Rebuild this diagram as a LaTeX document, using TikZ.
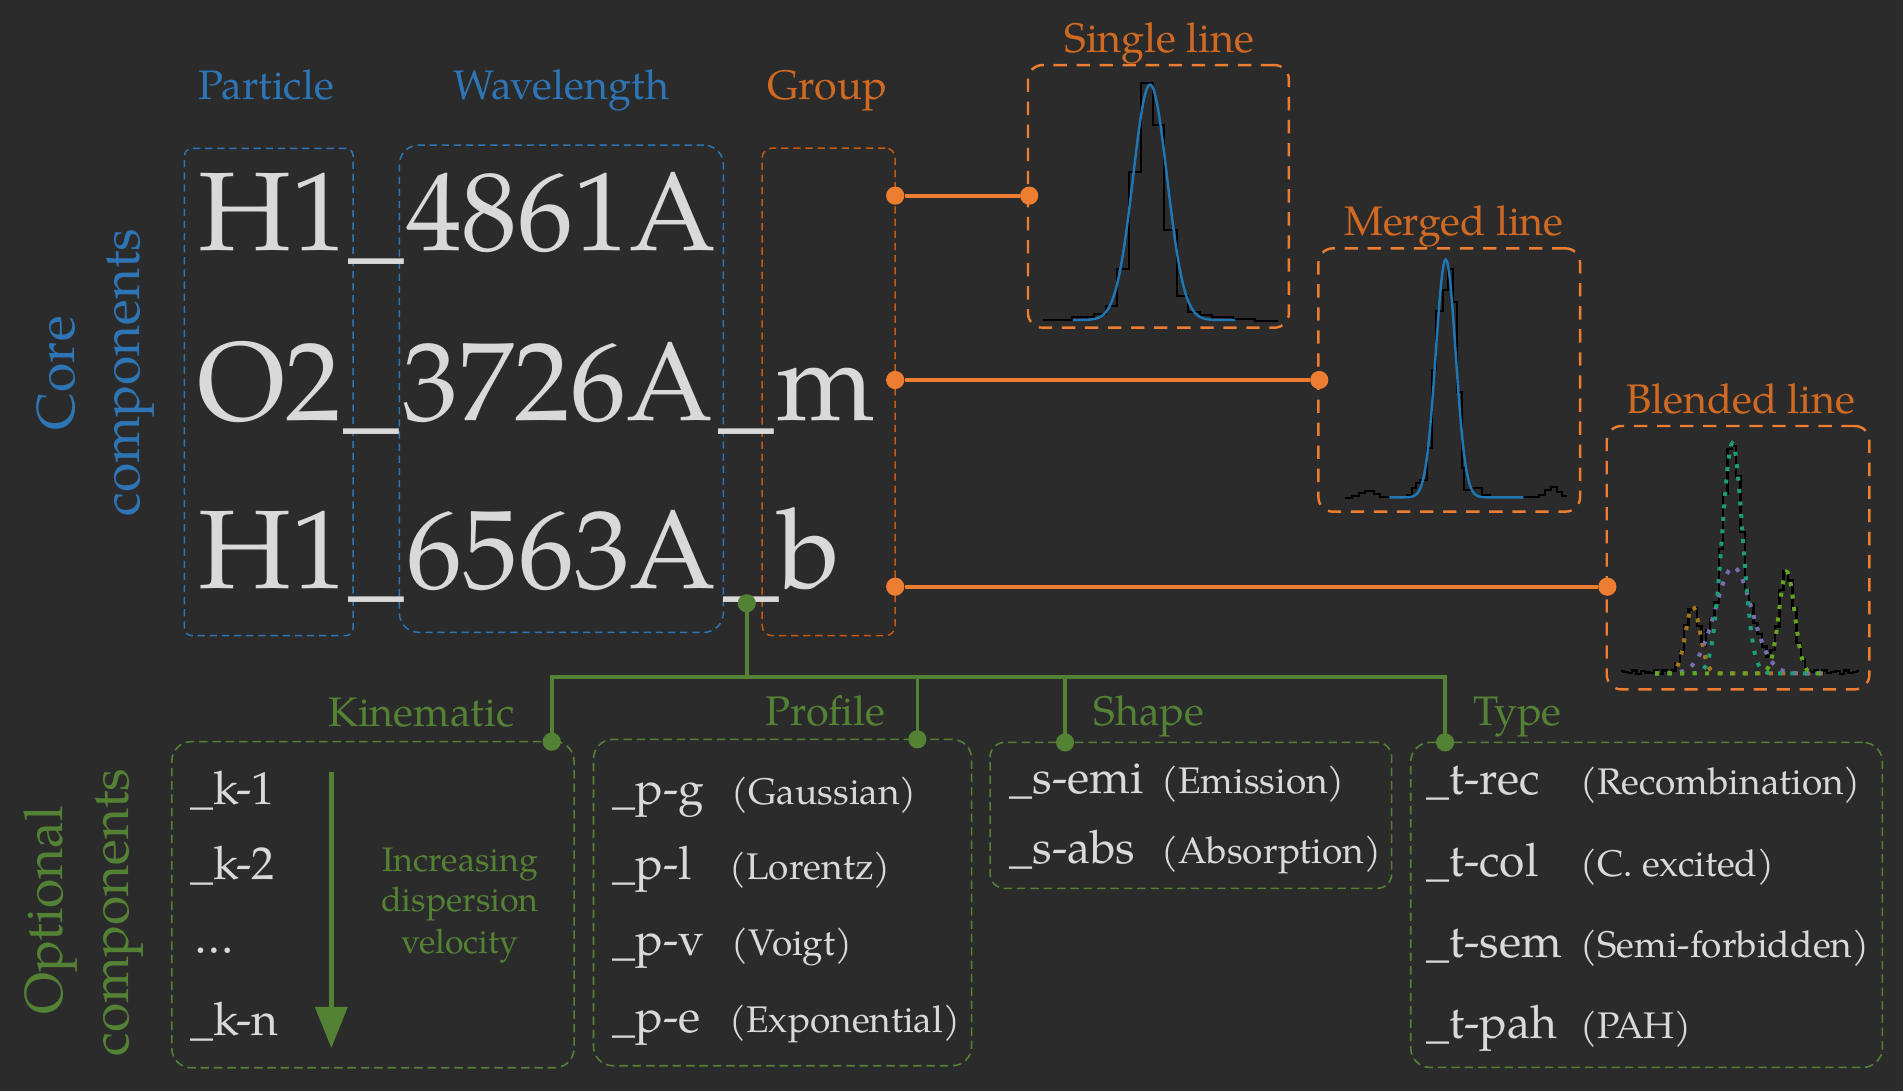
\documentclass[tikz,border=0pt]{standalone}
\usepackage{fontspec}
\setmainfont{TeX Gyre Pagella}
\usetikzlibrary{arrows.meta}
\definecolor{bg}{HTML}{2B2B2B}
\definecolor{txtgray}{HTML}{D9D9D9}
\definecolor{cblue}{HTML}{2E75B6}
\definecolor{olbl}{HTML}{D06A22}
\definecolor{oline}{HTML}{ED7D31}
\definecolor{odark}{HTML}{C55A11}
\definecolor{grn}{HTML}{548235}
\definecolor{pblue}{HTML}{1F77B4}
\definecolor{dgold}{HTML}{A6761D}
\definecolor{dteal}{HTML}{1B9E77}
\definecolor{dpurp}{HTML}{7570B3}
\definecolor{dgrn}{HTML}{66A61E}
\tikzset{
 lbl/.style={inner sep=0pt, outer sep=0pt, anchor=base west},
 big/.style={lbl, text=txtgray, font=\fontsize{92}{92}\selectfont},
 hdr/.style={lbl, font=\fontsize{34}{34}\selectfont},
 side/.style={inner sep=0pt, anchor=base, rotate=90, font=\fontsize{44}{44}\selectfont},
 code/.style={lbl, text=txtgray, font=\fontsize{38}{38}\selectfont},
 paren/.style={lbl, text=txtgray, font=\fontsize{30.5}{30.5}\selectfont},
 incr/.style={inner sep=0pt, anchor=base, text=grn, font=\fontsize{28}{28}\selectfont},
 corebox/.style={draw=cblue, rectangle, line width=1.2pt, dash pattern=on 6pt off 4pt, inner sep=0pt},
 grpbox/.style={draw=odark, rectangle, line width=1.2pt, dash pattern=on 6pt off 4pt, inner sep=0pt, rounded corners=8pt},
 plotbox/.style={draw=oline, rectangle, line width=2pt, dash pattern=on 11pt off 8pt, inner sep=0pt, rounded corners=12pt},
 optbox/.style={draw=grn, rectangle, line width=1.3pt, dash pattern=on 7pt off 4pt, inner sep=0pt, rounded corners=16pt},
 odot/.style={circle, fill=oline, inner sep=0pt, minimum size=15pt},
 gdot/.style={circle, fill=grn, inner sep=0pt, minimum size=15pt},
 oconn/.style={draw=oline, line width=3.5pt},
 gconn/.style={draw=grn, line width=3pt},
 hist/.style={draw=black, line width=1.6pt},
 fitline/.style={draw=pblue, line width=2pt},
 comp/.style={line width=3.3pt, dash pattern=on 3.3pt off 7pt},
}
\begin{document}
\begin{tikzpicture}[x=1pt,y=-1pt,
 declare function={
  gA(\x)=54.9*exp(-min(((\x-1394.8)/6.06)^2/2,9));
  gT(\x)=189.5*exp(-min(((\x-1427.4)/8.4)^2/2,9));
  gP(\x)=87.3*exp(-min(((\x-1428.3)/15)^2/2,9));
  gG(\x)=83.8*exp(-min(((\x-1472.2)/6.4)^2/2,9));
 }]
\fill[bg] (0,0) rectangle (1568,899);
\useasboundingbox (0,0) rectangle (1568,899);

% ---- core boxes
\node[corebox, rounded corners=6pt, minimum width=139pt, minimum height=401.4pt] (partbox) at (221.5,323) {};
\node[corebox, rounded corners=16pt, minimum width=267pt, minimum height=401.4pt] (wavebox) at (462.5,320.3) {};
\node[grpbox, minimum width=109.6pt, minimum height=401.7pt] (grpbox) at (682.8,322.85) {};

% ---- headers
\node[hdr, text=cblue] (hpart) at (163.5,82) {Particle};
\node[hdr, text=cblue] (hwave) at (373.7,82) {Wavelength};
\node[hdr, text=olbl] (hgrp) at (632,82) {Group};
\node[hdr, text=olbl] (hsingle) at (877,43.4) {Single line};
\node[hdr, text=olbl] (hmerged) at (1107.4,194.2) {Merged line};
\node[hdr, text=olbl] (hblend) at (1339.8,340.3) {Blended line};

% ---- side labels
\node[side, text=cblue] (core1) at (61,307.5) {Core};
\node[side, text=cblue] (core2) at (115,307) {components};
\node[side, text=grn] (opt1) at (51.5,750) {Optional};
\node[side, text=grn] (opt2) at (105.6,752) {components};

% ---- big text rows
\node[big] (r1a) at (163.8,206.7) {H1};
\node[big] (r1u) at (287,206.7) {\_};
\node[big] (r1b) at (334.6,206.7) {4861A};
\node[big] (r2a) at (163,346.7) {O2};
\node[big] (r2u) at (283,346.7) {\_};
\node[big] (r2b) at (332,346.7) {3726A};
\node[big] (r2v) at (592,346.7) {\_};
\node[big] (r2c) at (640,346.7) {m};
\node[big] (r3a) at (163.8,485.1) {H1};
\node[big] (r3u) at (287,485.1) {\_};
\node[big] (r3b) at (335,485.1) {6563A};
\node[big] (r3v) at (596,485.1) {\_};
\node[big] (r3c) at (641.5,485.1) {b};

% ---- plot boxes
\node[plotbox, minimum width=215pt, minimum height=216.4pt] (sbox) at (954.5,161.8) {};
\node[plotbox, minimum width=215.6pt, minimum height=217pt] (mbox) at (1194.1,313.1) {};
\node[plotbox, minimum width=216.4pt, minimum height=217pt] (bbox) at (1432.1,459.5) {};

% ---- single line plot
\draw[hist] (859.6,263.7) -- (883,263.7) -- (883,261) -- (901.5,261) -- (901.5,259) -- (911,259) -- (911,251.9) -- (920.7,251.9) -- (920.7,221.7) -- (930.3,221.7) -- (930.3,142) -- (940,142) -- (940,68.1) -- (949.8,68.1) -- (949.8,102.7) -- (959.4,102.7) -- (959.4,189.5) -- (969.6,189.5) -- (969.6,243.9) -- (979.2,243.9) -- (979.2,256.8) -- (988.8,256.8) -- (988.8,259.6) -- (998.4,259.6) -- (998.4,261) -- (1016,261) -- (1016,262.5) -- (1034,262.5) -- (1034,264.5) -- (1053,264.5);
\draw[fitline] plot[smooth, domain=884:1017.7, samples=120] (\x, {263.7-194*exp(-min(((\x-947.6)/14)^2/2,9))});

% ---- merged line plot
\draw[hist] (1108.2,410) -- (1114,410) -- (1114,408.5) -- (1120,408.5) -- (1120,406.5) -- (1125,406.5) -- (1125,404.5) -- (1132,404.5) -- (1132,407) -- (1137,407) -- (1137,409.5) -- (1159,409.5) -- (1159,407.9) -- (1163.2,407.9) -- (1163.2,402.4) -- (1166.7,402.4) -- (1166.7,398.3) -- (1170,398.3) -- (1170,395.5) -- (1176.1,395.5) -- (1176.1,369.4) -- (1179.7,369.4) -- (1179.7,304.9) -- (1183.2,304.9) -- (1183.2,256) -- (1188.7,256) -- (1188.7,239) -- (1192.8,239) -- (1192.8,221.9) -- (1197.5,221.9) -- (1197.5,248.6) -- (1200.2,248.6) -- (1200.2,322.7) -- (1204.4,322.7) -- (1204.4,385.9) -- (1206.3,385.9) -- (1206.3,403.7) -- (1214,403.7) -- (1214,402.4) -- (1220.9,402.4) -- (1220.9,407.9) -- (1227.7,407.9) -- (1227.7,409.2) -- (1255.2,409.2) -- (1255.2,409.8) -- (1268,409.8) -- (1268,407.5) -- (1273,407.5) -- (1273,404) -- (1278,404) -- (1278,401) -- (1283,401) -- (1283,405) -- (1287,405) -- (1287,409) -- (1290.9,409);
\draw[fitline] plot[smooth, domain=1144.8:1255.2, samples=120] (\x, {409.8-196*exp(-min(((\x-1191.2)/8.2)^2/2,9))});

% ---- blended line plot
\draw[hist, line width=2pt] plot[const plot mark mid, domain=1336:1532, samples=56] (\x, {554.8-max(gA(\x),gT(\x),gP(\x),gG(\x))-1-1.5*sin((\x-1300)*41)});
\draw[comp, draw=dgold] plot[smooth, domain=1363.7:1505.2, samples=150] (\x, {554.8-gA(\x)});
\draw[comp, draw=dpurp] plot[smooth, domain=1363.7:1505.2, samples=150] (\x, {554.8-gP(\x)});
\draw[comp, draw=dteal] plot[smooth, domain=1363.7:1505.2, samples=150] (\x, {554.8-gT(\x)});
\draw[comp, draw=dgrn] plot[smooth, domain=1363.7:1505.2, samples=150] (\x, {554.8-gG(\x)});

% ---- orange connectors
\node[odot] (go1) at (737.6,161.2) {};
\node[odot] (go2) at (737.6,313.1) {};
\node[odot] (go3) at (737.6,483.4) {};
\node[odot] (po1) at (848,161.2) {};
\node[odot] (po2) at (1087,313.1) {};
\node[odot] (po3) at (1324.4,483.4) {};
\draw[oconn] (go1) -- (po1);
\draw[oconn] (go2) -- (po2);
\draw[oconn] (go3) -- (po3);

% ---- optional boxes
\node[optbox, minimum width=331.4pt, minimum height=268.7pt] (kbox) at (307.3,745.45) {};
\node[optbox, minimum width=311.6pt, minimum height=268.9pt] (pbox) at (644.8,743.65) {};
\node[optbox, minimum width=330.9pt, minimum height=120.3pt, rounded corners=12pt] (shbox) at (981.25,671.85) {};
\node[optbox, minimum width=388.6pt, minimum height=267.8pt] (tbox) at (1356.7,745.6) {};

% ---- green tree
\node[gdot] (gsrc) at (615.3,497.1) {};
\coordinate (bus) at (615.3,557.6);
\node[gdot] (kdot) at (454.6,611.1) {};
\node[gdot] (pdot) at (755.9,609.2) {};
\node[gdot] (sdot) at (877.6,611.7) {};
\node[gdot] (tdot) at (1190.7,611.7) {};
\draw[gconn] (gsrc.center) -- (bus);
\draw[gconn] (bus) -| (kdot.center);
\draw[gconn] (bus) -| (pdot.center);
\draw[gconn] (bus) -| (sdot.center);
\draw[gconn] (bus) -| (tdot.center);

% ---- green labels
\node[hdr, text=grn] (lkin) at (270.4,598.2) {Kinematic};
\node[hdr, text=grn] (lpro) at (630.4,598) {Profile};
\node[hdr, text=grn] (lsha) at (901,597.4) {Shape};
\node[hdr, text=grn] (ltyp) at (1214,597.4) {Type};

% ---- kinematic
\node[code] (k1) at (157,662.5) {\_k-1};
\node[code] (k2) at (157,725) {\_k-2};
\node[code] (k3) at (160,786) {\ldots};
\node[code] (k4) at (157,852.8) {\_k-n};
\coordinate (arrS) at (273,636);
\coordinate (arrE) at (273,863.6);
\draw[draw=grn, line width=4.5pt, -{Triangle[length=34pt, width=26pt]}] (arrS) -- (arrE);
\node[incr] (inc1) at (379,718.3) {Increasing};
\node[incr] (inc2) at (379,751.2) {dispersion};
\node[incr] (inc3) at (379,785.5) {velocity};

% ---- profile
\node[code] (p1) at (504.7,662.5) {\_p-g};
\node[paren] (p1t) at (603,662.5) {(Gaussian)};
\node[code] (p2) at (504.7,725) {\_p-l};
\node[paren] (p2t) at (601,725) {(Lorentz)};
\node[code] (p3) at (504.7,787) {\_p-v};
\node[paren] (p3t) at (603,787) {(Voigt)};
\node[code] (p4) at (504.7,851) {\_p-e};
\node[paren] (p4t) at (601,851) {(Exponential)};

% ---- shape
\node[code] (s1) at (831.7,653.7) {\_s-emi};
\node[paren] (s1t) at (956.9,653.7) {(Emission)};
\node[code] (s2) at (831.7,711.4) {\_s-abs};
\node[paren] (s2t) at (957,711.4) {(Absorption)};

% ---- type
\node[code] (t1) at (1175,655) {\_t-rec};
\node[paren] (t1t) at (1302.2,655) {(Recombination)};
\node[code] (t2) at (1175,722.4) {\_t-col};
\node[paren] (t2t) at (1302.2,722.4) {(C. excited)};
\node[code] (t3) at (1175,788.8) {\_t-sem};
\node[paren] (t3t) at (1302.2,788.8) {(Semi-forbidden)};
\node[code] (t4) at (1175,855.6) {\_t-pah};
\node[paren] (t4t) at (1302.2,855.6) {(PAH)};
\end{tikzpicture}
\end{document}
